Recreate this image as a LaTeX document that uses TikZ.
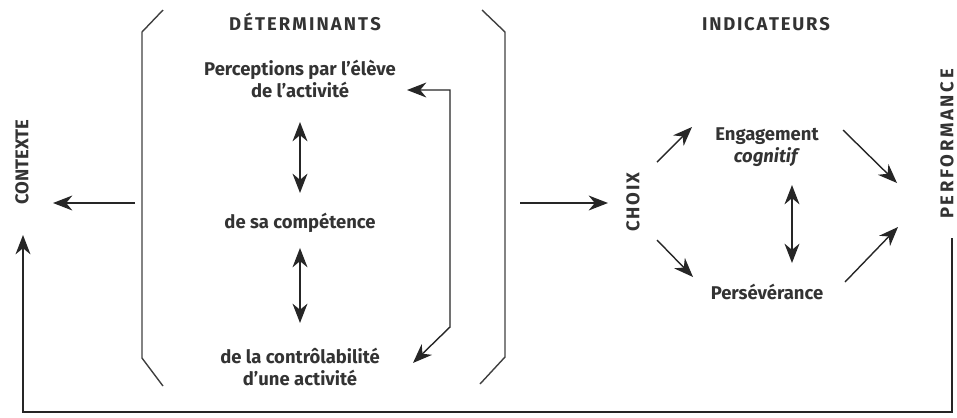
\documentclass[tikz,border=0pt]{standalone}
\usepackage{fontspec}
\setmainfont{Fira Sans}
\usetikzlibrary{arrows.meta,calc,positioning}
\makeatletter
\newcommand\espace[2]{\@tfor\lettre:=#2\do{\lettre\kern#1}\unkern}
\makeatother
\begin{document}
\begin{tikzpicture}[x=0.02cm, y=-0.02cm, node distance=2.88cm,
    >={Stealth[length=11pt,width=8.5pt,inset=3.5pt]}]
		% Styles
		\tikzstyle{texte} = [text=black!80, inner sep=1pt, align=center,
			font=\bfseries\fontsize{10.5}{12.5}\selectfont]
		\tikzstyle{fleche} = [draw=black!85, line width=0.8pt, ->]
		\tikzstyle{dfleche} = [draw=black!85, line width=0.8pt, <->]
		\tikzstyle{crochet} = [draw=black!75, line width=0.8pt]

		\useasboundingbox (0,0) rectangle (957,417);

		% Noeuds
		\node [texte] (determ) at (305,22) {\espace{1.2pt}{DÉTERMINANTS}};
		\node [texte] (percep) at (300,79) {Perceptions par l'élève\\de l'activité};
		\node [texte, below of=percep] (comp) {de sa compétence};
		\node [texte, below of=comp] (contr) {de la contrôlabilité\\d'une activité};
		\node [texte] (indic) at (766,24) {\espace{1pt}{INDICATEURS}};
		\node [texte] (engage) at (767,147) {Engagement\\\textit{cognitif}};
		\node [texte] (persev) at (767,292) {Persévérance};
		\node [texte, rotate=90] (contexte) at (22,162) {CONTEXTE};
		\node [texte, rotate=90] (choix) at (633,202) {\espace{1pt}{CHOIX}};
		\node [texte, rotate=90] (perf) at (947,144) {\espace{1.5pt}{PERFORMANCE}};

		% Crochets
		\draw [crochet] (163,10) -- (142,32) -- (142,358) -- (163,386);
		\draw [crochet] (482,10) -- (505,32) -- (505,357) -- (480,384);
		\coordinate (gauche) at (135,203);
		\coordinate (droite) at (520,203);

		% Connexions
		\draw [dfleche] ($(percep)+(0,43)$) -- ($(comp)+(0,-30)$);
		\draw [dfleche] ($(comp)+(0,25)$) -- ($(contr)+(0,-44)$);
		\draw [dfleche] ($(percep)+(107,11)$) -| (450,327) -- ($(contr)+(113,-4)$);
		\draw [fleche] (gauche) -- ($(contexte)+(31,41)$);
		\draw [fleche] (droite) -- ($(choix)+(-25,1)$);
		\draw [fleche] ($(choix)+(24,-40)$) -- ($(engage)+(-75,-20)$);
		\draw [fleche] ($(choix)+(24,38)$) -- ($(persev)+(-74,-15)$);
		\draw [fleche] ($(engage)+(76,-17)$) -- ($(perf)+(-50,39)$);
		\draw [fleche] ($(persev)+(78,-10)$) -- ($(perf)+(-49,83)$);
		\draw [dfleche] ($(engage)+(25,38)$) -- ($(persev)+(25,-29)$);
		\draw [fleche] ($(perf)+(5,94)$) |- (23,412) -- ($(contexte)+(1,73)$);
	\end{tikzpicture}
\end{document}
